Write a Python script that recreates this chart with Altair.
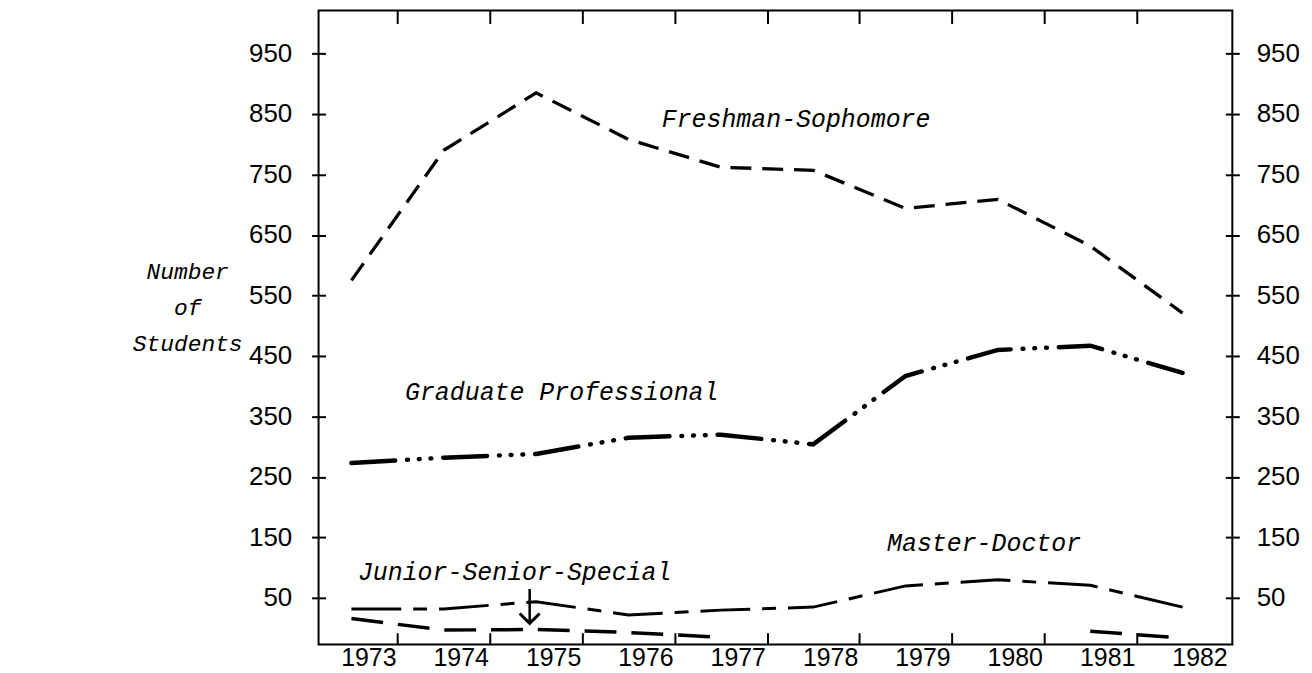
import altair as alt
import pandas as pd

# ---- data ----
years = [1973, 1974, 1975, 1976, 1977, 1978, 1979, 1980, 1981, 1982]
freshman_sophomore = [575, 790, 885, 808, 762, 757, 694, 709, 632, 521]
graduate_professional = [273, 282, 288, 315, 320, 304, 417, 460, 467, 422]
master_doctor = [32, 32, 44, 22, 30, 35, 70, 80, 71, 35]
junior_senior_special = [16, -3, -2, -7, -15, None, None, None, -5, -16]

y_ticks = [50, 150, 250, 350, 450, 550, 650, 750, 850, 950]
x_tick_marks = [y + 0.5 for y in years[:-1]]

label_text = ["Freshman-Sophomore", "Graduate Professional",
              "Junior-Senior-Special", "Master-Doctor"]
label_year = [1976.36, 1973.58, 1973.07, 1978.8]
label_value = [829, 378, 80, 128]

arrow_year = [1974.93]
arrow_top = [65]
arrow_tip = [8]

# ---- tables ----
def series_df(vals):
    seg, rows = 0, []
    for yr, v in zip(years, vals):
        if v is None:
            seg += 1
            continue
        rows.append({"year": yr, "value": v, "seg": seg})
    return pd.DataFrame(rows)

df_fs = series_df(freshman_sophomore)
df_gp = series_df(graduate_professional)
df_md = series_df(master_doctor)
df_js = series_df(junior_senior_special)
df_lab = pd.DataFrame({"year": label_year, "value": label_value, "text": label_text})
df_arrow = pd.DataFrame({"year": arrow_year, "top": arrow_top, "tip": arrow_tip})

xs = alt.Scale(domain=[1972.644, 1982.539], nice=False, zero=False)
ys = alt.Scale(domain=[-27, 1021], nice=False, zero=False)

NUM_FONT = "Liberation Sans"
TXT_FONT = "Liberation Mono"

# Layer 1: Freshman line carries x labels + left y axis
x_labels_axis = alt.Axis(values=years, format="d", ticks=False, domain=False, grid=False,
                         labelOffset=17, labelPadding=1, labelFont=NUM_FONT,
                         labelFontSize=25, labelColor="black", title=None,
                         labelFlush=False, labelOverlap=False)
y_left_axis = alt.Axis(values=y_ticks, orient="left", offset=-7, tickSize=14, tickWidth=2,
                       tickColor="black", domain=False, grid=False, labelPadding=20,
                       labelFont=NUM_FONT, labelFontSize=26, labelColor="black",
                       title=["Number", "of", "Students"], titleAngle=0,
                       titleFont=TXT_FONT, titleFontStyle="italic", titleFontWeight="normal",
                       titleFontSize=23, titleColor="black", titleAlign="center",
                       titleBaseline="alphabetic", titleX=-139, titleY=269,
                       titleLineHeight=36.5, labelFlush=False, labelOverlap=False)

fs = alt.Chart(df_fs).mark_line(color="black", strokeWidth=3.3, strokeDash=[21, 11]).encode(
    x=alt.X("year:Q", scale=xs, axis=x_labels_axis),
    y=alt.Y("value:Q", scale=ys, axis=y_left_axis),
)

# Layer 2: Graduate line carries bottom tick marks + right y axis
x_bottom_ticks = alt.Axis(values=x_tick_marks, orient="bottom", labels=False, domain=False,
                          grid=False, offset=-12, tickSize=12, tickWidth=2,
                          tickColor="black", title=None)
y_right_axis = alt.Axis(values=y_ticks, orient="right", offset=-7, tickSize=14, tickWidth=2,
                        tickColor="black", domain=False, grid=False, labelPadding=17,
                        labelFont=NUM_FONT, labelFontSize=26, labelColor="black",
                        title=None, labelFlush=False, labelOverlap=False)
gp = alt.Chart(df_gp).mark_line(color="black", strokeWidth=4.5, strokeCap="round",
                                strokeDash=[44, 12, 0.8, 11, 0.8, 11, 0.8, 12]).encode(
    x=alt.X("year:Q", scale=xs, axis=x_bottom_ticks),
    y=alt.Y("value:Q", scale=ys, axis=y_right_axis),
)

# Layer 3: Master-Doctor line carries top tick marks
x_top_ticks = alt.Axis(values=x_tick_marks, orient="top", labels=False, domain=False,
                       grid=False, offset=-13, tickSize=13, tickWidth=2,
                       tickColor="black", title=None)
md = alt.Chart(df_md).mark_line(color="black", strokeWidth=3, strokeDash=[50, 12, 14, 12]).encode(
    x=alt.X("year:Q", scale=xs, axis=x_top_ticks),
    y=alt.Y("value:Q", scale=ys, axis=None),
)

js = alt.Chart(df_js).mark_line(color="black", strokeWidth=3.5, strokeDash=[32, 15]).encode(
    x=alt.X("year:Q", scale=xs, axis=None),
    y=alt.Y("value:Q", scale=ys, axis=None),
    detail="seg:N",
)

labels = alt.Chart(df_lab).mark_text(font=TXT_FONT, fontStyle="italic", fontSize=25,
                                     align="left", baseline="alphabetic", color="black").encode(
    x=alt.X("year:Q", scale=xs, axis=None),
    y=alt.Y("value:Q", scale=ys, axis=None),
    text="text:N",
)

arrow_shaft = alt.Chart(df_arrow).mark_rule(color="black", strokeWidth=2.5).encode(
    x=alt.X("year:Q", scale=xs, axis=None),
    y=alt.Y("top:Q", scale=ys, axis=None),
    y2="tip:Q",
)
arrow_head = alt.Chart(df_arrow).mark_point(shape="M-1,-1L0,0L1,-1", size=400, filled=False,
                                            color="black", strokeWidth=3, opacity=1).encode(
    x=alt.X("year:Q", scale=xs, axis=None),
    y=alt.Y("tip:Q", scale=ys, axis=None),
)

chart = alt.layer(fs, gp, md, js, labels, arrow_shaft, arrow_head).resolve_axis(
    x="independent", y="independent"
).properties(
    width=918, height=637,
    autosize=alt.AutoSizeParams(type="none"),
    padding={"left": 312, "top": 1, "right": 72, "bottom": 33},
    background="white",
).configure_view(stroke="black", strokeWidth=2)

chart.save("out.html", embed_options={"renderer": "svg", "actions": False})
